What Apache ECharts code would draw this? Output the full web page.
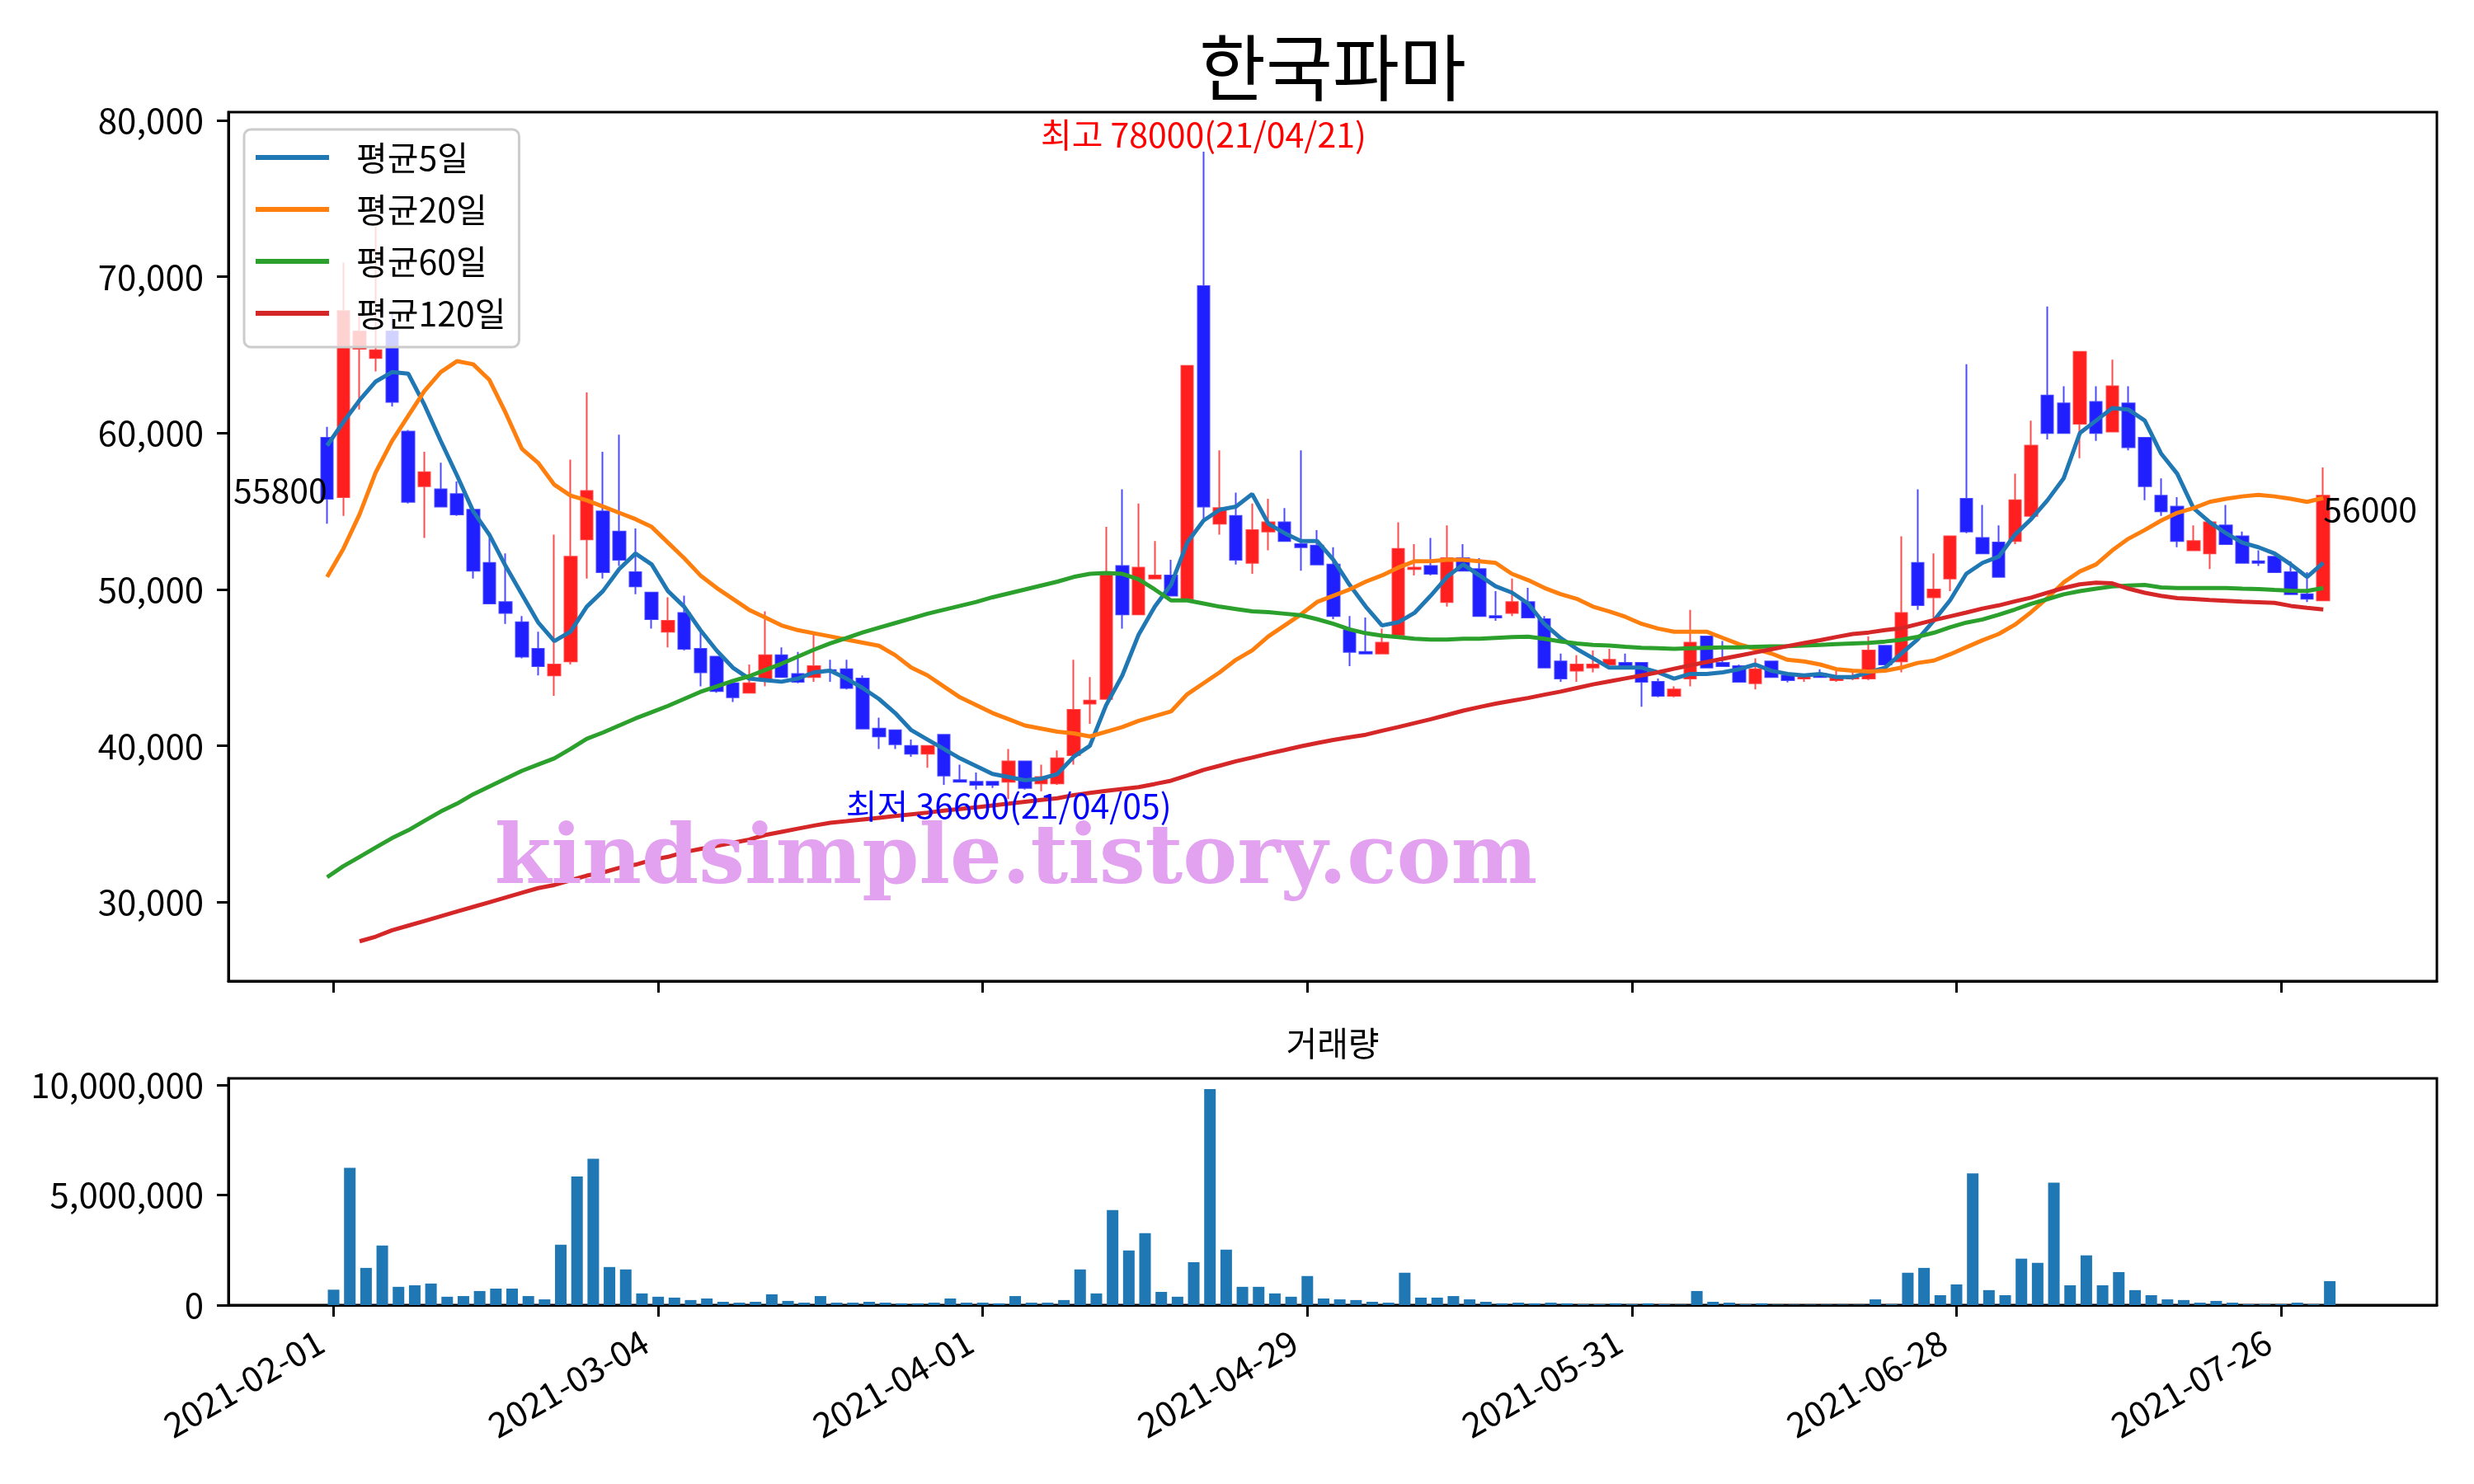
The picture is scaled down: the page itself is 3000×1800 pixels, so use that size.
<!doctype html>
<html>
<head>
<meta charset="utf-8">
<title>한국파마</title>
<style>
  html, body { margin: 0; padding: 0; background: #fff; }
  #main { width: 3000px; height: 1800px; }
</style>
</head>
<body>
<div id="main"></div>
<script src="https://cdn.jsdelivr.net/npm/echarts@6/dist/echarts.min.js"></script>
<script>

// trading days shown (2021-02-01 .. 2021-07-29)
var dates = [
  '2021-02-01','2021-02-02','2021-02-03','2021-02-04','2021-02-05','2021-02-08','2021-02-09','2021-02-10',
  '2021-02-15','2021-02-16','2021-02-17','2021-02-18','2021-02-19','2021-02-22','2021-02-23','2021-02-24',
  '2021-02-25','2021-02-26',
  '2021-03-02','2021-03-03','2021-03-04','2021-03-05','2021-03-08','2021-03-09','2021-03-10','2021-03-11',
  '2021-03-12','2021-03-15','2021-03-16','2021-03-17','2021-03-18','2021-03-19','2021-03-22','2021-03-23',
  '2021-03-24','2021-03-25','2021-03-26','2021-03-29','2021-03-30','2021-03-31',
  '2021-04-01','2021-04-02','2021-04-05','2021-04-06','2021-04-07','2021-04-08','2021-04-09','2021-04-12',
  '2021-04-13','2021-04-14','2021-04-15','2021-04-16','2021-04-19','2021-04-20','2021-04-21','2021-04-22',
  '2021-04-23','2021-04-26','2021-04-27','2021-04-28','2021-04-29','2021-04-30',
  '2021-05-03','2021-05-04','2021-05-06','2021-05-07','2021-05-10','2021-05-11','2021-05-12','2021-05-13',
  '2021-05-14','2021-05-17','2021-05-18','2021-05-20','2021-05-21','2021-05-24','2021-05-25','2021-05-26',
  '2021-05-27','2021-05-28','2021-05-31',
  '2021-06-01','2021-06-02','2021-06-03','2021-06-04','2021-06-07','2021-06-08','2021-06-09','2021-06-10',
  '2021-06-11','2021-06-14','2021-06-15','2021-06-16','2021-06-17','2021-06-18','2021-06-21','2021-06-22',
  '2021-06-23','2021-06-24','2021-06-25','2021-06-28','2021-06-29','2021-06-30',
  '2021-07-01','2021-07-02','2021-07-05','2021-07-06','2021-07-07','2021-07-08','2021-07-09','2021-07-12',
  '2021-07-13','2021-07-14','2021-07-15','2021-07-16','2021-07-19','2021-07-20','2021-07-21','2021-07-22',
  '2021-07-23','2021-07-26','2021-07-27','2021-07-28','2021-07-29'
];

var opens = [
  59700, 55900, 65400, 64800, 66500, 60100, 56600, 56400, 56100, 55100,
  51700, 49200, 47900, 46200, 44500, 45400, 53200, 55000, 53700, 51100,
  49800, 47300, 48500, 46200, 45700, 44000, 43400, 44300, 45800, 44600,
  44400, 44850, 44900, 44300, 41100, 41000, 40000, 39500, 40700, 37800,
  37700, 37700, 37700, 39000, 37600, 37600, 39400, 42700, 43000, 51500,
  48400, 50700, 50900, 49400, 69400, 54200, 54700, 51700, 53700, 54300,
  52900, 52800, 51600, 47400, 46000, 45900, 47100, 51300, 51500, 49200,
  52000, 51300, 48300, 48500, 49200, 48100, 45400, 44800, 45000, 45200,
  45300, 45300, 44100, 43200, 44300, 47000, 45300, 45100, 44000, 45400,
  44500, 44300, 44600, 44200, 44300, 44300, 46400, 45400, 51700, 49500,
  50700, 55800, 53300, 53000, 53100, 54700, 62400, 61900, 60600, 62000,
  60100, 61900, 59700, 56000, 55300, 52500, 52300, 54100, 53400, 51800,
  52100, 51100, 49700, 49300
];

var closes = [
  55800, 67800, 66500, 65300, 62000, 55600, 57500, 55300, 54800, 51200,
  49100, 48500, 45700, 45100, 45200, 52100, 56300, 51100, 51900, 50200,
  48100, 48000, 46200, 44700, 43500, 43100, 44000, 45800, 44400, 44100,
  45100, 44800, 43700, 41100, 40600, 40100, 39500, 40000, 38100, 37700,
  37500, 37500, 39000, 37300, 38000, 39200, 42300, 42900, 50900, 48400,
  51400, 50900, 49600, 64300, 55300, 55200, 51900, 53800, 54300, 53100,
  52700, 51600, 48300, 46000, 45900, 46600, 52600, 51400, 51000, 52000,
  51200, 48300, 48200, 49200, 48200, 45000, 44300, 45200, 45200, 45500,
  45150, 44100, 43200, 43600, 46600, 45000, 45100, 44100, 44900, 44400,
  44200, 44400, 44400, 44400, 44400, 46100, 45200, 48500, 49000, 50000,
  53400, 53700, 52300, 50800, 55700, 59200, 60000, 60000, 65200, 60000,
  63000, 59100, 56600, 55000, 53100, 53100, 54300, 52900, 51700, 51700,
  51100, 49700, 49400, 56000
];

var lows = [
  54200, 54700, 61500, 63950, 61700, 55500, 53300, 55300, 54700, 50700,
  49100, 47800, 45600, 44500, 43200, 45200, 50700, 50700, 51500, 49700,
  47500, 46300, 46100, 43800, 43400, 42800, 43400, 43800, 44400, 44000,
  44100, 44100, 43600, 41100, 39800, 39800, 39300, 38600, 37500, 37700,
  37200, 37300, 36600, 37200, 37100, 37500, 38800, 41400, 43000, 47500,
  48400, 50700, 49600, 49400, 54400, 53500, 51600, 51000, 52500, 53100,
  51200, 51600, 48100, 45100, 45900, 45900, 47100, 50900, 50900, 48900,
  51200, 48300, 48000, 48300, 48200, 45000, 44100, 44100, 44700, 45200,
  45150, 42500, 43100, 43100, 43800, 45000, 45100, 44100, 43600, 44400,
  44050, 44100, 44400, 44100, 44200, 44200, 45200, 44700, 48700, 48100,
  49900, 53600, 52300, 50800, 52900, 54500, 59600, 60000, 58400, 59500,
  60100, 58900, 55700, 54700, 52700, 52500, 51300, 52900, 51700, 51500,
  51100, 49700, 49200, 49300
];

var highs = [
  60400, 70900, 67600, 73200, 67800, 60200, 58800, 58100, 56900, 55100,
  53300, 52300, 48300, 47300, 53500, 58300, 62600, 58800, 59900, 53900,
  49800, 49500, 49600, 47300, 45700, 44000, 45200, 48600, 46300, 46000,
  47300, 45500, 45500, 44500, 41800, 41000, 40400, 40000, 40700, 38800,
  38300, 37700, 39800, 39000, 38800, 39700, 45500, 44400, 54000, 56400,
  55500, 53100, 51900, 64300, 78000, 58900, 56200, 55500, 55800, 55200,
  58900, 53800, 52700, 48300, 48200, 47500, 54300, 52900, 53300, 54100,
  52900, 52000, 49900, 50700, 50100, 48300, 45900, 45800, 46100, 46200,
  45900, 45300, 44300, 43800, 48700, 47000, 46700, 45200, 45600, 45400,
  44600, 44500, 44900, 44800, 44700, 47000, 46400, 53400, 56400, 52300,
  53400, 64400, 55400, 54100, 57400, 60800, 68100, 63000, 65200, 63000,
  64700, 63000, 59700, 57100, 55900, 54100, 54300, 55400, 53700, 52500,
  52100, 51800, 51100, 57800
];

var volumes = [
  700000, 6240000, 1690000, 2710000, 830000, 900000, 980000, 380000, 410000, 640000,
  750000, 750000, 410000, 260000, 2740000, 5840000, 6650000, 1730000, 1620000, 530000,
  380000, 340000, 230000, 300000, 150000, 110000, 150000, 490000, 190000, 110000,
  410000, 110000, 110000, 150000, 110000, 80000, 80000, 110000, 300000, 110000,
  110000, 80000, 410000, 110000, 110000, 230000, 1620000, 530000, 4320000, 2480000,
  3270000, 600000, 380000, 1950000, 9810000, 2520000, 830000, 830000, 530000, 380000,
  1320000, 300000, 260000, 230000, 150000, 110000, 1470000, 340000, 340000, 410000,
  260000, 150000, 80000, 110000, 80000, 110000, 80000, 40000, 40000, 80000,
  40000, 80000, 40000, 20000, 640000, 150000, 110000, 40000, 80000, 20000,
  20000, 20000, 20000, 20000, 20000, 260000, 40000, 1470000, 1690000, 450000,
  940000, 5980000, 680000, 450000, 2110000, 1920000, 5560000, 900000, 2260000, 900000,
  1500000, 680000, 450000, 260000, 230000, 110000, 190000, 110000, 40000, 40000,
  40000, 110000, 40000, 1090000
];

var ma5 = [
  59200, 60700, 62100, 63300, 63900, 63800, 61800, 59500, 57300, 55000,
  53500, 51500, 49700, 47900, 46700, 47300, 48900, 49900, 51300, 52300,
  51600, 49900, 48900, 47400, 46100, 45000, 44300, 44200, 44100, 44300,
  44700, 44800, 44300, 43700, 43000, 42100, 41000, 40400, 39800, 39200,
  38700, 38200, 38000, 37800, 37900, 38200, 39300, 40000, 42600, 44500,
  47100, 48900, 50300, 53000, 54400, 55100, 55300, 56100, 54200, 53600,
  53100, 53100, 51900, 50300, 48900, 47700, 47900, 48500, 49600, 50800,
  51600, 50900, 50200, 49800, 49100, 47800, 46900, 46200, 45600, 45000,
  45000, 45000, 44700, 44300, 44600, 44600, 44700, 44900, 45200, 44800,
  44600, 44500, 44600, 44400, 44400, 44700, 45000, 45900, 46800, 48000,
  49300, 51000, 51700, 52100, 53500, 54500, 55700, 57100, 60000, 60800,
  61600, 61500, 60800, 58700, 57400, 55200, 54300, 53600, 53000, 52700,
  52300, 51600, 50800, 51700
];

var ma20 = [
  50800, 52600, 54800, 57500, 59500, 61100, 62700, 63900, 64600, 64400,
  63400, 61300, 59000, 58100, 56700, 56000, 55700, 55300, 54900, 54500,
  54000, 53000, 52000, 50900, 50100, 49400, 48700, 48200, 47700, 47400,
  47200, 47000, 46800, 46600, 46400, 45800, 45000, 44500, 43800, 43100,
  42600, 42100, 41700, 41300, 41100, 40900, 40800, 40600, 40900, 41200,
  41600, 41900, 42200, 43300, 44000, 44700, 45500, 46100, 47000, 47700,
  48400, 49200, 49600, 50000, 50500, 50900, 51400, 51800, 51800, 51900,
  51900, 51800, 51700, 51000, 50600, 50100, 49700, 49400, 48900, 48600,
  48250, 47800, 47500, 47300, 47300, 47300, 46900, 46500, 46200, 45900,
  45500, 45400, 45200, 44900, 44800, 44750, 44800, 45000, 45300, 45450,
  45850, 46300, 46750, 47150, 47750, 48550, 49450, 50450, 51150, 51600,
  52500, 53250, 53800, 54400, 54900, 55200, 55600, 55800, 55950, 56050,
  55950, 55800, 55600, 55850
];

var ma60 = [
  31600, 32300, 32900, 33500, 34100, 34600, 35200, 35800, 36300, 36900,
  37400, 37900, 38400, 38800, 39200, 39800, 40450, 40850, 41300, 41750,
  42150, 42550, 43000, 43450, 43800, 44150, 44450, 44850, 45250, 45700,
  46150, 46550, 46900, 47250, 47550, 47850, 48150, 48450, 48700, 48950,
  49200, 49500, 49750, 50000, 50250, 50500, 50800, 51000, 51050, 51000,
  50650, 50000, 49300, 49300, 49100, 48900, 48750, 48600, 48550, 48450,
  48350, 48100, 47800, 47450, 47200, 47050, 46950, 46850, 46800, 46800,
  46850, 46850, 46900, 46950, 46980, 46850, 46680, 46550, 46450, 46410,
  46330, 46270, 46240, 46200, 46240, 46270, 46290, 46290, 46330, 46360,
  46380, 46410, 46450, 46500, 46550, 46580, 46670, 46780, 46970, 47230,
  47580, 47880, 48080, 48380, 48720, 49080, 49380, 49690, 49890, 50050,
  50190, 50250, 50290, 50130, 50090, 50090, 50090, 50090, 50050, 50030,
  49970, 49920, 49910, 50090
];

var ma120 = [
  null, null, 27500, 27800, 28200, 28500, 28800, 29100, 29400, 29700,
  30000, 30300, 30600, 30900, 31100, 31400, 31700, 31900, 32200, 32400,
  32700, 32900, 33200, 33400, 33600, 33800, 34000, 34300, 34500, 34700,
  34900, 35080, 35180, 35290, 35400, 35510, 35620, 35730, 35850, 35960,
  36070, 36190, 36300, 36420, 36540, 36650, 36850, 36990, 37120, 37240,
  37360, 37560, 37770, 38100, 38460, 38730, 39010, 39250, 39500, 39730,
  39970, 40180, 40380, 40550, 40710, 40960, 41200, 41450, 41700, 41970,
  42250, 42480, 42700, 42880, 43060, 43270, 43470, 43700, 43930, 44120,
  44310, 44500, 44700, 44930, 45150, 45360, 45570, 45770, 45970, 46180,
  46380, 46570, 46760, 46960, 47150, 47250, 47400, 47520, 47780, 48040,
  48280, 48520, 48780, 48980, 49240, 49480, 49790, 50090, 50330, 50430,
  50390, 50050, 49790, 49590, 49450, 49390, 49330, 49280, 49220, 49180,
  49140, 48950, 48830, 48720
];

var maNames = ['평균5일', '평균20일', '평균60일', '평균120일'];
var maColors = ['#1f77b4', '#ff7f0e', '#2ca02c', '#d62728'];
var dateTicks = [0, 20, 40, 60, 80, 100, 120];
var priceTicks = [30000, 40000, 50000, 60000, 70000, 80000];
var volumeTicks = [0, 5000000, 10000000];

var FONT = '"Noto Sans CJK KR", "Noto Sans", sans-serif';
var SHIFT = -0.4;   // candles sit a bit left of the volume bars in the original

function comma(v) { return Number(v).toLocaleString('en-US'); }
function shortDate(d) { return d.slice(2).replace(/-/g, '/'); }
function xy(arr, shift) {
  var out = [];
  arr.forEach(function (v, i) { if (v != null) out.push([i + shift, v]); });
  return out;
}

var candles = dates.map(function (d, i) {
  return [i + SHIFT, opens[i], closes[i], lows[i], highs[i]];
});
var hiVal = Math.max.apply(null, highs), hiIdx = highs.indexOf(hiVal);
var loVal = Math.min.apply(null, lows), loIdx = lows.indexOf(loVal);
var last = closes.length - 1;

var chart = echarts.init(document.getElementById('main'), null, { renderer: 'canvas' });

var xCommon = {
  type: 'value', min: -6.48, max: 129.6,
  splitLine: { show: false },
  axisLine: { show: true, onZero: false, lineStyle: { color: '#000', width: 3 } },
  axisTick: { show: true, customValues: dateTicks, length: 14, lineStyle: { color: '#000', width: 3 } }
};

var series = [{
  type: 'candlestick',
  name: 'price',
  xAxisIndex: 0, yAxisIndex: 0,
  encode: { x: 0, y: [1, 2, 3, 4] },
  data: candles,
  barWidth: 15,
  z: 2,
  itemStyle: {
    color: 'rgba(255,0,0,0.88)', borderColor: 'rgba(255,30,30,0.8)',
    color0: 'rgba(0,0,255,0.88)', borderColor0: 'rgba(30,30,255,0.8)',
    borderWidth: 2
  },
  markPoint: {
    symbol: 'circle', symbolSize: 0, silent: true, animation: false,
    label: { fontSize: 41, fontFamily: FONT },
    data: [
      { coord: [hiIdx + SHIFT, hiVal],
        label: { formatter: '최고 ' + hiVal + '(' + shortDate(dates[hiIdx]) + ')', color: '#ff0000', position: 'top', distance: 0 } },
      { coord: [loIdx + SHIFT, loVal],
        label: { formatter: '최저 ' + loVal + '(' + shortDate(dates[loIdx]) + ')', color: '#0000ff', position: 'inside', offset: [0, 8] } },
      { coord: [0 + SHIFT, closes[0]],
        label: { formatter: String(closes[0]), color: '#000', position: 'left', distance: 0, offset: [0, -11] } },
      { coord: [last + SHIFT, closes[last]],
        label: { formatter: String(closes[last]), color: '#000', position: 'right', distance: 0, offset: [0, 16] } }
    ]
  }
}];

[ma5, ma20, ma60, ma120].forEach(function (arr, k) {
  series.push({
    type: 'line', name: maNames[k], xAxisIndex: 0, yAxisIndex: 0,
    data: xy(arr, SHIFT), showSymbol: false, symbol: 'none', z: 3,
    lineStyle: { color: maColors[k], width: 5 }, itemStyle: { color: maColors[k] }
  });
});

series.push({
  type: 'bar', name: '거래량', xAxisIndex: 1, yAxisIndex: 1,
  data: xy(volumes, 0), barWidth: 14,
  itemStyle: { color: '#1f77b4' }
});

chart.setOption({
  animation: false,
  backgroundColor: '#fff',
  textStyle: { fontFamily: FONT },
  grid: [
    { left: 277, top: 136, width: 2678, height: 1054, show: true, borderColor: '#000', borderWidth: 3 },
    { left: 277, top: 1308, width: 2678, height: 275, show: true, borderColor: '#000', borderWidth: 3 }
  ],
  xAxis: [
    Object.assign({ gridIndex: 0, axisLabel: { show: false } }, xCommon),
    Object.assign({ gridIndex: 1, axisLabel: {
      show: true, customValues: dateTicks, rotate: 30, margin: 32, padding: [0, 18, 0, 0],
      fontSize: 42, fontFamily: FONT, color: '#000',
      formatter: function (v) { return dates[Math.round(v)] || ''; }
    } }, xCommon)
  ],
  yAxis: [{
    gridIndex: 0, type: 'value', min: 24955, max: 80526,
    splitLine: { show: false },
    axisLine: { show: true, onZero: false, lineStyle: { color: '#000', width: 3 } },
    axisTick: { show: true, customValues: priceTicks, length: 14, lineStyle: { color: '#000', width: 3 } },
    axisLabel: { customValues: priceTicks, margin: 30, fontSize: 42, fontFamily: FONT, color: '#000', formatter: comma }
  }, {
    gridIndex: 1, type: 'value', min: 0, max: Math.max.apply(null, volumes) * 1.05,
    splitLine: { show: false },
    axisLine: { show: true, onZero: false, lineStyle: { color: '#000', width: 3 } },
    axisTick: { show: true, customValues: volumeTicks, length: 14, lineStyle: { color: '#000', width: 3 } },
    axisLabel: { customValues: volumeTicks, margin: 30, fontSize: 42, fontFamily: FONT, color: '#000', formatter: comma }
  }],
  legend: {
    data: maNames, orient: 'vertical', left: 296, top: 157,
    icon: 'rect', itemWidth: 89, itemHeight: 6, itemGap: 13,
    padding: [9, 16, 16, 14],
    backgroundColor: 'rgba(255,255,255,0.8)', borderColor: '#cccccc', borderWidth: 3, borderRadius: 8,
    textStyle: { fontSize: 41, fontFamily: FONT, color: '#000', lineHeight: 50, padding: [0, 0, 0, 28] }
  },
  graphic: [
    { type: 'text', x: 1616, y: 82, z: 10,
      style: { text: '한국파마', fontSize: 88, fontFamily: FONT, fill: '#000', align: 'center', verticalAlign: 'middle' } },
    { type: 'text', x: 1616, y: 1265, z: 10,
      style: { text: '거래량', fontSize: 41, fontFamily: FONT, fill: '#000', align: 'center', verticalAlign: 'middle' } },
    { type: 'text', x: 1232, y: 1045, z: 100,
      style: { text: 'kindsimple.tistory.com', fontSize: 99, fontWeight: 'bold', fontFamily: '"DejaVu Serif", serif',
               fill: '#e2a2ef', align: 'center', verticalAlign: 'middle' } }
  ],
  series: series
});
</script>
</body>
</html>
